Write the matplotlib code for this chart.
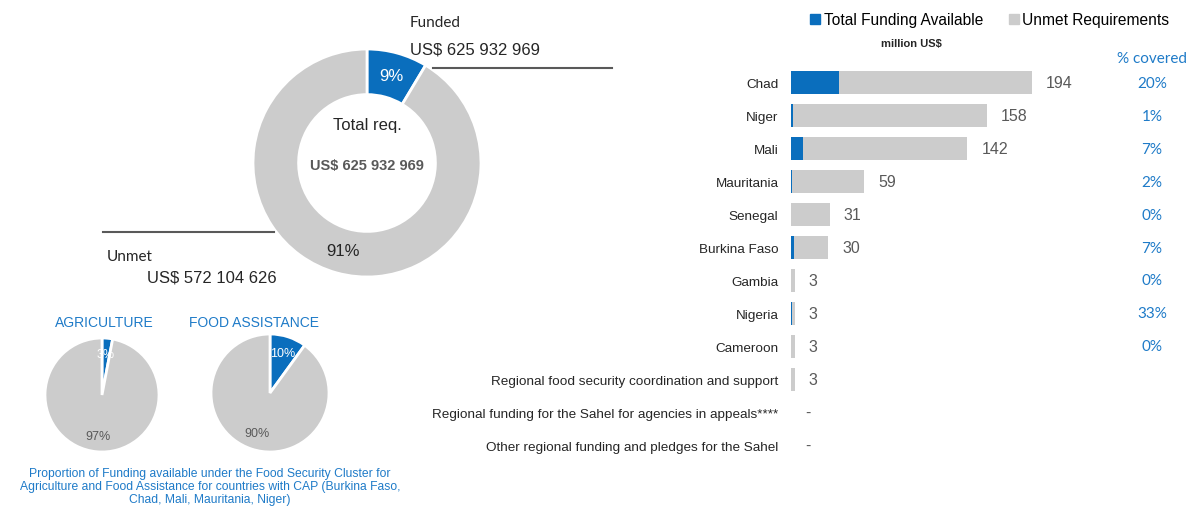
import numpy as np
import matplotlib
matplotlib.use('Agg')
import matplotlib.pyplot as plt
from matplotlib.lines import Line2D
from matplotlib.transforms import blended_transform_factory

W, H = 1187, 510
BLUE = '#0A6EBD'
GRAY = '#CCCCCC'
TXT_BLUE = '#1F7BC8'
DARK = '#262626'
NUM = '#595959'

plt.rcParams['font.family'] = ['Liberation Sans', 'DejaVu Sans']

# donut: total requirements and unmet (US$)
total_req = 625932969
unmet_req = 572104626
funded_label = 'US$ 625 932 969'
unmet_label = 'US$ 572 104 626'
total_label = 'US$ 625 932 969'

# small pies: % funded / % unmet
agri_pct = [3, 97]
food_pct = [10, 90]

# bar chart (million US$)
countries = ['Chad', 'Niger', 'Mali', 'Mauritania', 'Senegal', 'Burkina Faso',
             'Gambia', 'Nigeria', 'Cameroon',
             'Regional food security coordination and support',
             'Regional funding for the Sahel for agencies in appeals****',
             'Other regional funding and pledges for the Sahel']
requirements = [194, 158, 142, 59, 31, 30, 3, 3, 3, 3, np.nan, np.nan]
funding = [38.8, 1.6, 9.9, 1.2, 0, 2.1, 0, 1.0, 0, 0, np.nan, np.nan]
pct_covered = ['20%', '1%', '7%', '2%', '0%', '7%', '0%', '33%', '0%', '', '', '']


def fx(px):
    return px / W


def fy(py):
    return 1 - py / H


def box(x0, y0, x1, y1):
    return [fx(x0), fy(y1), (x1 - x0) / W, (y1 - y0) / H]


fig = plt.figure(figsize=(W / 100, H / 100), dpi=100)

# ---- donut ----
ax_d = fig.add_axes(box(253, 50, 481, 278))
funded_amt = total_req - unmet_req
wedges, _, autotexts = ax_d.pie([funded_amt, unmet_req], colors=[BLUE, GRAY], startangle=90,
                                counterclock=False, radius=1,
                                wedgeprops=dict(width=0.4, edgecolor='white', linewidth=2),
                                autopct='%1.0f%%', pctdistance=0.8,
                                textprops=dict(fontsize=12))
autotexts[0].set_color('white')
autotexts[1].set_color(DARK)
ax_d.set_xlim(-1, 1)
ax_d.set_ylim(-1, 1)
ax_d.text(0, 0.34, 'Total req.', ha='center', va='center', fontsize=12, color=DARK)
ax_d.text(0, -0.02, total_label, ha='center', va='center', fontsize=10.5, color=NUM,
          fontweight='bold')

fig.text(fx(410), fy(23), 'Funded', fontsize=11, color=DARK, va='center', family=['Lato'])
fig.text(fx(410), fy(50), funded_label, fontsize=12, color=DARK, va='center')
fig.text(fx(107), fy(257), 'Unmet', fontsize=11, color=DARK, va='center', family=['Lato'])
fig.text(fx(147), fy(278), unmet_label, fontsize=12, color=DARK, va='center')
fig.add_artist(Line2D([fx(433), fx(612)], [fy(69), fy(69)], transform=fig.transFigure,
                      color='#595959', lw=1.5))
fig.add_artist(Line2D([fx(103), fx(274)], [fy(233), fy(233)], transform=fig.transFigure,
                      color='#595959', lw=1.5))

# ---- small pies ----
for (cx, cy, r), vals, title, tx in [((102, 396, 57), agri_pct, 'AGRICULTURE', 104),
                                      ((270, 394, 59), food_pct, 'FOOD ASSISTANCE', 254)]:
    ax_p = fig.add_axes(box(cx - r, cy - r, cx + r, cy + r))
    _, _, at = ax_p.pie(vals, colors=[BLUE, GRAY], startangle=90, counterclock=False,
                        wedgeprops=dict(edgecolor='white', linewidth=2),
                        autopct='%1.0f%%', pctdistance=0.72,
                        textprops=dict(fontsize=9))
    at[0].set_color('white')
    at[1].set_color(NUM)
    ax_p.set_xlim(-1, 1)
    ax_p.set_ylim(-1, 1)
    fig.text(fx(tx), fy(323), title, ha='center', va='center', fontsize=10, color=TXT_BLUE)

fig.text(fx(210), fy(487), 'Proportion of Funding available under the Food Security Cluster for\n'
         'Agriculture and Food Assistance for countries with CAP (Burkina Faso,\n'
         'Chad, Mali, Mauritania, Niger)', ha='center', va='center', fontsize=8.7,
         color=TXT_BLUE, linespacing=1.15)

# ---- bar chart ----
ax = fig.add_axes(box(791, 67.5, 1100, 462.5))
y = np.arange(len(countries))
req = np.array(requirements)
fund = np.array(funding)
ax.barh(y, fund, height=0.7, color=BLUE)
ax.barh(y, req - fund, left=fund, height=0.7, color=GRAY)
ax.set_xlim(0, 309 / 1.242)
ax.set_ylim(len(countries) - 0.5, -0.5)
ax.set_yticks(y)
ax.set_yticklabels(countries, fontsize=9.7, color=DARK)
ax.tick_params(axis='y', length=0, pad=9)
ax.set_xticks([])
for s in ax.spines.values():
    s.set_visible(False)

for yi, v in zip(y, req):
    label = '-' if np.isnan(v) else f'{v:.0f}'
    xpos = 0 if np.isnan(v) else v
    ax.annotate(label, (xpos, yi), xytext=(10, 0), textcoords='offset points',
                ha='left', va='center', fontsize=11.5, color=NUM)

tr = blended_transform_factory(fig.transFigure, ax.transData)
for yi, p in zip(y, pct_covered):
    ax.text(fx(1152), yi, p, transform=tr, ha='center', va='center', fontsize=11,
            color=TXT_BLUE, family=['Lato'])
fig.text(fx(1152), fy(59), '% covered', ha='center', va='center', fontsize=11,
         color=TXT_BLUE, family=['Lato'])

fig.text(fx(911), fy(44), 'million US$', ha='center', va='center', fontsize=8,
         fontweight='bold', color=DARK)

handles = [Line2D([], [], marker='s', ls='', color=BLUE, markersize=7),
           Line2D([], [], marker='s', ls='', color=GRAY, markersize=7)]
fig.legend(handles, ['Total Funding Available', 'Unmet Requirements'], ncol=2,
           loc='center left', bbox_to_anchor=(fx(810), fy(21)), frameon=False,
           fontsize=11.2, handlelength=0.7, handletextpad=0.2, columnspacing=1.6,
           borderaxespad=0, borderpad=0)

fig.savefig('out.png', dpi=100)
